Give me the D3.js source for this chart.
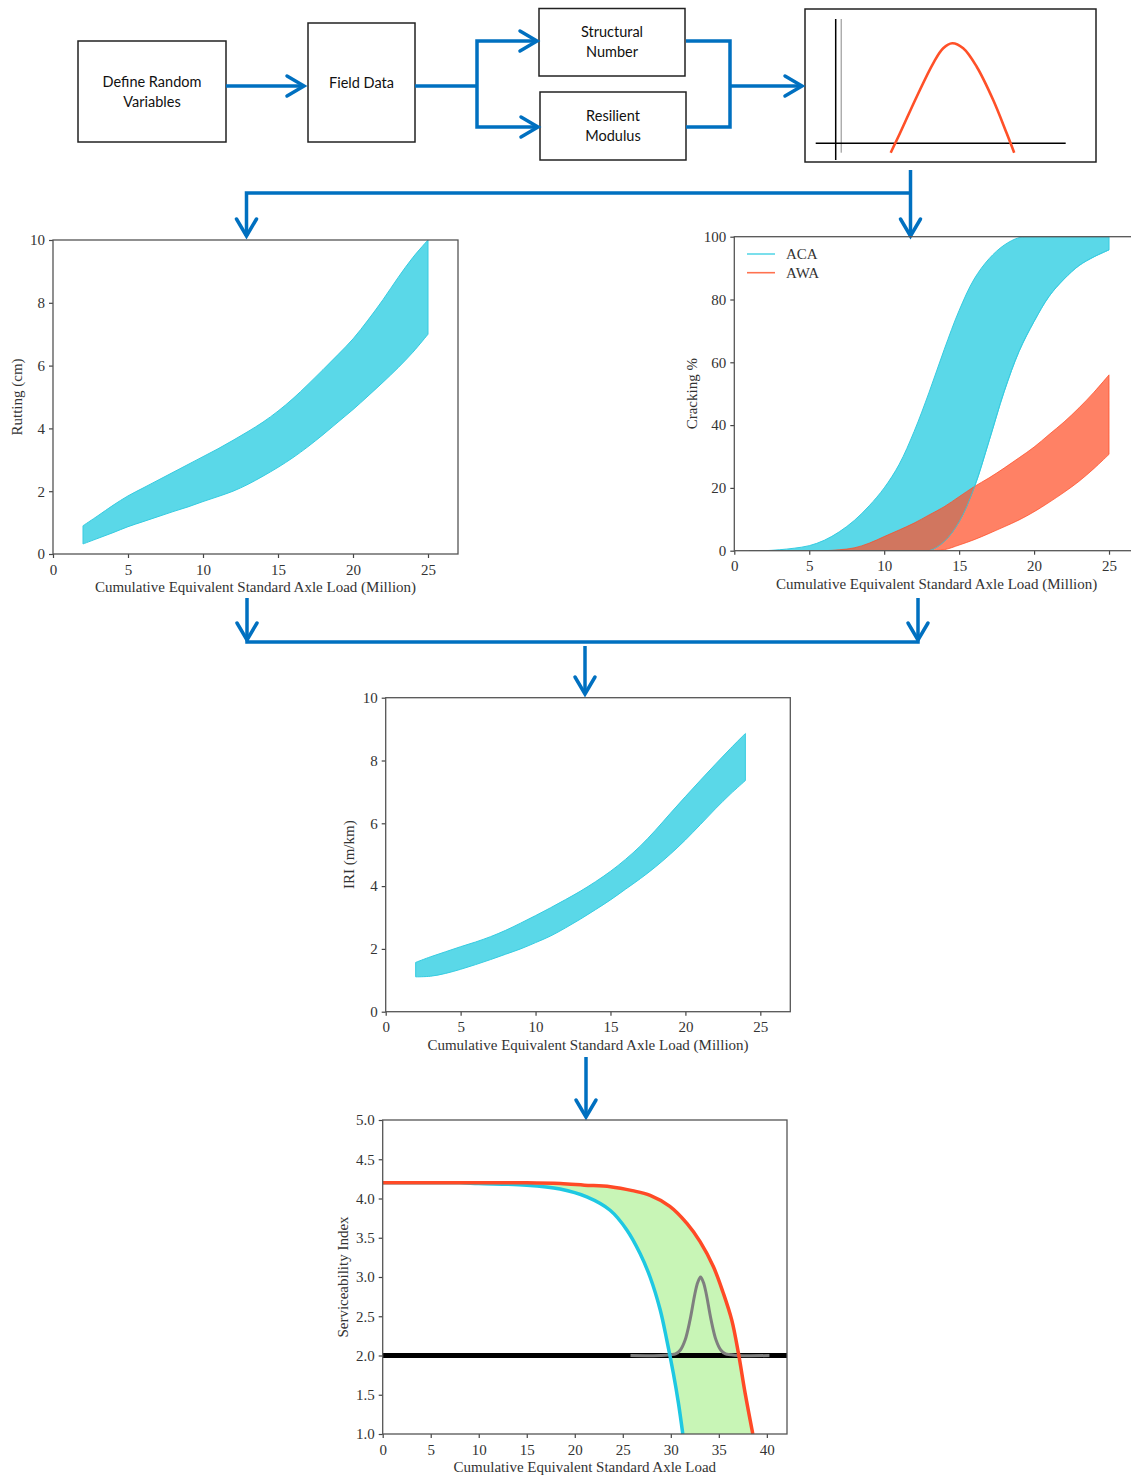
<!DOCTYPE html>
<html><head><meta charset="utf-8">
<script src="https://cdn.jsdelivr.net/npm/d3@7"></script>
<style>body{margin:0;background:#fff}svg{display:block}</style>
</head><body>
<svg id="c" width="1131" height="1475"></svg>
<script>
// ---------------- DATA ----------------
const rutX     = [2,3,4,5,6,7,8,9,10,11,12,13,14,15,16,17,18,19,20,21,22,23,24,25];
const rutUpper = [0.9,1.22,1.55,1.85,2.1,2.35,2.6,2.85,3.1,3.35,3.62,3.9,4.2,4.55,4.95,5.4,5.87,6.35,6.85,7.45,8.1,8.8,9.45,10.0];
const rutLower = [0.32,0.5,0.68,0.87,1.03,1.19,1.35,1.5,1.67,1.83,2.0,2.22,2.48,2.76,3.07,3.42,3.8,4.2,4.6,5.03,5.47,5.93,6.43,7.0];

const crackX   = [1,2,3,4,5,6,7,8,9,10,11,12,13,14,15,16,17,18,19,20,21,22,23,24,25];
const acaUpper = [0,0,0.3,0.8,1.6,3.3,6,9.6,14.3,20,27.5,38,50.5,64,76.5,86.5,93,97.3,99.7,100,100,100,100,100,100];
const acaLower = [0,0,0,0,0,0,0,0,0,0,0,0,0,2.9,9.2,20,35,50.6,63.5,73,81,86.5,90.8,93.6,95.8];
const awaUpper = [0,0,0,0,0,0,0.3,0.9,2.4,4.5,6.6,8.8,11.4,14,17.2,20.4,23.2,26.3,29.6,33,37,41,45.5,50.5,56];
const awaLower = [0,0,0,0,0,0,0,0,0,0,0,0,0,0.3,1.8,3.5,5.5,7.6,9.8,12.4,15.4,18.6,22.1,26.2,30.7];
const crackSeries = ["ACA","AWA"];

const iriX     = [2,3,4,5,6,7,8,9,10,11,12,13,14,15,16,17,18,19,20,21,22,23,24];
const iriUpper = [1.57,1.75,1.91,2.07,2.22,2.39,2.59,2.82,3.06,3.31,3.57,3.84,4.14,4.47,4.85,5.28,5.78,6.32,6.85,7.37,7.88,8.38,8.86];
const iriLower = [1.11,1.13,1.22,1.35,1.5,1.66,1.83,2.0,2.2,2.41,2.67,2.95,3.25,3.56,3.9,4.24,4.61,5.02,5.47,5.96,6.46,6.93,7.36];

const psiRedX  = [0,5,10,15,18.5,21,23.7,26,27.85,29.9,31.7,33.05,34.44,35.48,36.35,37.04,37.74,38.54];
const psiRedY  = [4.2,4.2,4.2,4.2,4.19,4.17,4.15,4.1,4.04,3.9,3.68,3.45,3.13,2.79,2.45,2.03,1.52,1.0];
const psiCyanX = [0,5,8,10,15,18.47,21.25,23.68,25.42,26.8,27.84,28.9,29.58,30.27,30.8,31.25];
const psiCyanY = [4.2,4.2,4.2,4.19,4.17,4.12,4.02,3.85,3.6,3.3,3.0,2.58,2.2,1.77,1.39,1.0];
const gaussX   = [25.8,29,30,30.5,31,31.5,32,32.5,32.8,33.1,33.4,33.7,34.2,34.7,35.2,35.7,36.2,37,40.27];
const gaussY   = [2,2,2.01,2.02,2.07,2.2,2.45,2.78,2.93,3.0,2.93,2.78,2.45,2.2,2.07,2.02,2.01,2,2];
const terminalPSI = 2.0;

const miniX = [3.0,3.37,4.04,4.70,5.10,5.46,5.90,6.44,7.10,7.64,7.94];
const miniY = [-0.094,0.10,0.466,0.80,0.95,1.0,0.95,0.766,0.433,0.10,-0.094];

const ticks0to25  = [0,5,10,15,20,25];
const ticks0to10  = [0,2,4,6,8,10];
const ticks0to100 = [0,20,40,60,80,100];
const ticks0to40  = [0,5,10,15,20,25,30,35,40];
const ticksPSI    = [1.0,1.5,2.0,2.5,3.0,3.5,4.0,4.5,5.0];

const flowBoxes = [
  {lines:["Define Random","Variables"], x0:78, y0:41, x1:226, y1:142},
  {lines:["Field Data"], x0:308, y0:23, x1:415, y1:142},
  {lines:["Structural","Number"], x0:539, y0:8.5, x1:685, y1:76},
  {lines:["Resilient","Modulus"], x0:540, y0:92, x1:686, y1:160}
];

// ---------------- STYLE ----------------
const BLUE = "#0070c0";
const CYAN = "#5ad8e8", CYAN_EDGE = "#36cbe0";
const serif = "'Liberation Serif', 'DejaVu Serif', serif";
const svg = d3.select("#c");
svg.append("rect").attr("width",1131).attr("height",1475).attr("fill","#fff");

// ---------------- FLOWCHART ----------------
const fg = svg.append("g");
flowBoxes.forEach(b => {
  fg.append("rect").attr("x",b.x0).attr("y",b.y0).attr("width",b.x1-b.x0).attr("height",b.y1-b.y0)
    .attr("fill","#fff").attr("stroke","#222").attr("stroke-width",1.5);
  const cx=(b.x0+b.x1)/2, cy=(b.y0+b.y1)/2, n=b.lines.length;
  b.lines.forEach((t,i)=>{
    fg.append("text").attr("x",cx).attr("y",cy+(i-(n-1)/2)*20).attr("dy","0.35em")
      .attr("text-anchor","middle").attr("font-family","Lato, 'Open Sans', sans-serif")
      .attr("font-size",14.5).attr("fill","#111").text(t);
  });
});
fg.append("rect").attr("x",805).attr("y",9).attr("width",291).attr("height",153)
  .attr("fill","#fff").attr("stroke","#222").attr("stroke-width",1.5);
const mx = d3.scaleLinear().domain([0,10]).range([815.7,1065.7]);
const my = d3.scaleLinear().domain([0,1]).range([143.3,43.3]);
fg.append("line").attr("x1",mx(0.8)).attr("x2",mx(0.8)).attr("y1",19).attr("y2",160).attr("stroke","#000").attr("stroke-width",1.5);
fg.append("line").attr("x1",mx(1.02)).attr("x2",mx(1.02)).attr("y1",19).attr("y2",152.7).attr("stroke","#888").attr("stroke-width",1);
fg.append("line").attr("x1",mx(0)).attr("x2",mx(10)).attr("y1",my(0)).attr("y2",my(0)).attr("stroke","#000").attr("stroke-width",1.5);
fg.append("path").datum(miniX.map((x,i)=>[x,miniY[i]]))
  .attr("d",d3.line().x(d=>mx(d[0])).y(d=>my(d[1])).curve(d3.curveCatmullRom.alpha(0.5)))
  .attr("fill","none").attr("stroke","#ff5028").attr("stroke-width",2.6);

function poly(pts){
  fg.append("path").attr("d",d3.line()(pts)).attr("fill","none").attr("stroke",BLUE)
    .attr("stroke-width",3.5).attr("stroke-linejoin","miter").attr("stroke-linecap","butt");
}
function chevron(x,y,dir){
  const L=17, W=10;
  let pts;
  if(dir==="right") pts=[[x-L,y-W],[x,y],[x-L,y+W]];
  else pts=[[x-W,y-L],[x,y],[x+W,y-L]];
  fg.append("path").attr("d",d3.line()(pts)).attr("fill","none").attr("stroke",BLUE)
    .attr("stroke-width",3.5).attr("stroke-linejoin","miter").attr("stroke-linecap","round");
}
poly([[226,86],[304,86]]); chevron(304,86,"right");
poly([[415,86],[477,86]]);
poly([[537,41],[477,41],[477,127],[537,127]]); chevron(537,41,"right"); chevron(538,127,"right");
poly([[686,41],[730,41],[730,127],[686,127]]);
poly([[730,86],[802,86]]); chevron(802,86,"right");
poly([[910.5,170],[910.5,236]]); chevron(910.5,236,"down");
poly([[910.5,193],[246.5,193],[246.5,236]]); chevron(246.5,236,"down");
poly([[247,598],[247,642],[918,642],[918,598]]); chevron(247,640,"down"); chevron(918,640,"down");
poly([[585,646],[585,694]]); chevron(585,694,"down");
poly([[586,1057],[586,1117]]); chevron(586,1117,"down");

// ---------------- CHART HELPER ----------------
let clipId=0;
function makeChart(o){
  const g = svg.append("g");
  const x = d3.scaleLinear().domain(o.xDomain).range([o.x0,o.x1]);
  const y = d3.scaleLinear().domain(o.yDomain).range([o.y1,o.y0]);
  const id = "clip"+(clipId++);
  svg.append("clipPath").attr("id",id).append("rect")
    .attr("x",o.x0).attr("y",o.y0).attr("width",o.x1-o.x0).attr("height",o.y1-o.y0);
  const plot = g.append("g").attr("clip-path",`url(#${id})`);
  const ax = g.append("g").attr("transform",`translate(0,${o.y1})`)
    .call(d3.axisBottom(x).tickValues(o.xTicks).tickSize(4).tickSizeOuter(0).tickPadding(4).tickFormat(o.xFmt||d3.format("d")));
  const ay = g.append("g").attr("transform",`translate(${o.x0},0)`)
    .call(d3.axisLeft(y).tickValues(o.yTicks).tickSize(4).tickSizeOuter(0).tickPadding(4).tickFormat(o.yFmt||d3.format("d")));
  [ax,ay].forEach(a=>{
    a.attr("font-family",serif).attr("font-size",15);
    a.select(".domain").remove();
    a.selectAll(".tick line").attr("stroke","#444").attr("stroke-width",1.2);
    a.selectAll(".tick text").attr("fill","#333");
  });
  ax.selectAll(".tick text").attr("dy","0.85em");
  g.append("rect").attr("x",o.x0).attr("y",o.y0).attr("width",o.x1-o.x0).attr("height",o.y1-o.y0)
    .attr("fill","none").attr("stroke","#555").attr("stroke-width",1.3);
  g.append("text").attr("x",(o.x0+o.x1)/2).attr("y",o.y1+33).attr("dy","0.35em")
    .attr("text-anchor","middle").attr("font-family",serif).attr("font-size",15).attr("fill","#333").text(o.xLabel);
  const ly=(o.y0+o.y1)/2;
  g.append("text").attr("transform",`translate(${o.yLabelX},${ly}) rotate(-90)`).attr("dy","0.35em")
    .attr("text-anchor","middle").attr("font-family",serif).attr("font-size",15).attr("fill","#333").text(o.yLabel);
  return {g, plot, x, y};
}
const smooth = d3.curveCatmullRom.alpha(0.5);
function band(c, xs, lo, hi, fill, edge, opacity){
  const data = xs.map((v,i)=>({x:v, lo:lo[i], hi:hi[i]}));
  const area = d3.area().x(d=>c.x(d.x)).y0(d=>c.y(d.lo)).y1(d=>c.y(d.hi)).curve(smooth);
  return c.plot.append("path").datum(data).attr("d",area).attr("fill",fill).attr("fill-opacity",opacity)
    .attr("stroke",edge).attr("stroke-width",1).attr("stroke-opacity",opacity);
}

// ---------------- RUTTING ----------------
const rut = makeChart({x0:53,x1:458,y0:240,y1:554,xDomain:[0,27],yDomain:[0,10],
  xTicks:ticks0to25,yTicks:ticks0to10,xLabel:"Cumulative Equivalent Standard Axle Load (Million)",
  yLabel:"Rutting (cm)",yLabelX:17});
band(rut, rutX, rutLower, rutUpper, CYAN, CYAN_EDGE, 1);

// ---------------- CRACKING ----------------
const cr = makeChart({x0:734.3,x1:1139,y0:236.7,y1:550.7,xDomain:[0,27],yDomain:[0,100],
  xTicks:ticks0to25,yTicks:ticks0to100,xLabel:"Cumulative Equivalent Standard Axle Load (Million)",
  yLabel:"Cracking %",yLabelX:692});
band(cr, crackX, acaLower, acaUpper, CYAN, CYAN_EDGE, 1);
band(cr, crackX, awaLower, awaUpper, "#ff5029", "#ff4a22", 0.72);
cr.plot.append("path").datum(crackX.map((v,i)=>[v,acaLower[i]]))
  .attr("d",d3.line().x(d=>cr.x(d[0])).y(d=>cr.y(d[1])).curve(smooth))
  .attr("fill","none").attr("stroke",CYAN_EDGE).attr("stroke-width",1).attr("stroke-opacity",0.8);
const legColors = {ACA:CYAN, AWA:"#ff7250"};
crackSeries.forEach((s,i)=>{
  const yy = 254 + i*18.7;
  cr.g.append("line").attr("x1",747).attr("x2",775).attr("y1",yy).attr("y2",yy)
    .attr("stroke",legColors[s]).attr("stroke-width",1.6);
  cr.g.append("text").attr("x",786).attr("y",yy).attr("dy","0.35em").attr("font-family",serif)
    .attr("font-size",15).attr("fill","#333").text(s);
});

// ---------------- IRI ----------------
const iri = makeChart({x0:385.7,x1:790.3,y0:697.7,y1:1011.7,xDomain:[0,27],yDomain:[0,10],
  xTicks:ticks0to25,yTicks:ticks0to10,xLabel:"Cumulative Equivalent Standard Axle Load (Million)",
  yLabel:"IRI (m/km)",yLabelX:349});
band(iri, iriX, iriLower, iriUpper, CYAN, CYAN_EDGE, 1);

// ---------------- SERVICEABILITY ----------------
const ps = makeChart({x0:382.7,x1:787,y0:1120,y1:1434,xDomain:[0,42.1],yDomain:[1,5],
  xTicks:ticks0to40,yTicks:ticksPSI,yFmt:d3.format(".1f"),xLabel:"Cumulative Equivalent Standard Axle Load",
  yLabel:"Serviceability Index",yLabelX:343});
const redPts  = psiRedX.map((v,i)=>[v,psiRedY[i]]);
const cyanPts = psiCyanX.map((v,i)=>[v,psiCyanY[i]]);
const lg = d3.line().x(d=>ps.x(d[0])).y(d=>ps.y(d[1])).curve(smooth);
ps.plot.append("path").attr("d", lg(redPts) + "L" + lg(cyanPts.slice().reverse()).slice(1) + "Z")
  .attr("fill","#c8f5b6").attr("stroke","none");
ps.plot.append("line").attr("x1",ps.x(0)).attr("x2",ps.x(42.1)).attr("y1",ps.y(terminalPSI)).attr("y2",ps.y(terminalPSI))
  .attr("stroke","#000").attr("stroke-width",5);
ps.plot.append("path").datum(gaussX.map((v,i)=>[v,gaussY[i]])).attr("d",lg)
  .attr("fill","none").attr("stroke","#7f7f7f").attr("stroke-width",3);
ps.plot.append("path").datum(cyanPts).attr("d",lg).attr("fill","none").attr("stroke","#1ec8e2").attr("stroke-width",3.5);
ps.plot.append("path").datum(redPts).attr("d",lg).attr("fill","none").attr("stroke","#ff4a26").attr("stroke-width",3.5);
</script>
</body></html>
